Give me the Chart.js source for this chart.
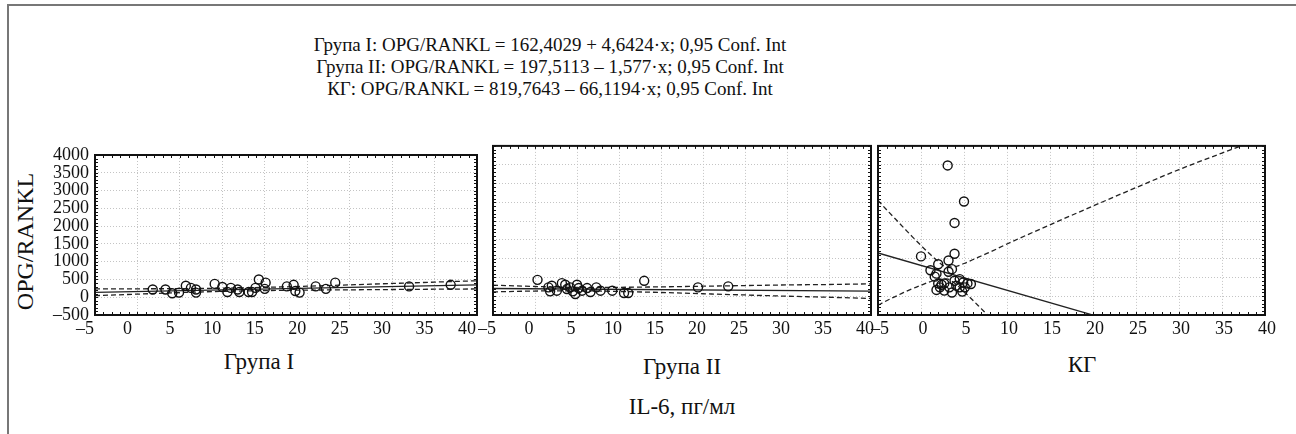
<!DOCTYPE html>
<html>
<head>
<meta charset="utf-8">
<script src="https://cdn.jsdelivr.net/npm/chart.js@4.4.1/dist/chart.umd.min.js"></script>
<style>
  body { margin: 0; width: 1296px; height: 434px; background: #fff; overflow: hidden; position: relative;
         font-family: "Liberation Serif", "Times New Roman", serif; color: #111; }
  .frame { position: absolute; left: 7px; top: 4px; width: 1300px; height: 440px;
           border-top: 2px solid #777; border-left: 2px solid #777; }
  .t { position: absolute; white-space: nowrap; transform: translateX(-50%); text-align: center; }
  .box { position: absolute; }
</style>
</head>
<body>
<div class="frame"></div>
<div class="t" style="left:550px; top:34px; font-size:19px; line-height:22px;">
  Група I: OPG/RANKL = 162,4029 + 4,6424·x; 0,95 Conf. Int<br>
  Група II: OPG/RANKL = 197,5113 – 1,577·x; 0,95 Conf. Int<br>
  КГ: OPG/RANKL = 819,7643 – 66,1194·x; 0,95 Conf. Int
</div>
<div class="t" style="left:25px; top:228px; font-size:24px; transform:translate(-50%,0) rotate(-90deg);">OPG/RANKL</div>
<div class="t" style="left:259px; top:349px; font-size:23px;">Група I</div>
<div class="t" style="left:682px; top:354px; font-size:23px;">Група II</div>
<div class="t" style="left:1082px; top:352px; font-size:23px;">КГ</div>
<div class="t" style="left:682px; top:394px; font-size:23px;">IL-6, пг/мл</div>

<div class="box" style="left:0px; top:140px; width:489px; height:210px;"><canvas id="c1"></canvas></div>
<div class="box" style="left:478px; top:140px; width:405px; height:210px;"><canvas id="c2"></canvas></div>
<div class="box" style="left:863px; top:140px; width:414px; height:210px;"><canvas id="c3"></canvas></div>

<script>
// Група I — IL-6 vs OPG/RANKL
const g1X = [1.8, 3.3, 4.1, 4.9, 5.7, 6.3, 6.9, 6.9, 9.1, 10.0, 10.6, 11.0, 11.8, 12.0, 13.1,
             13.5, 13.9, 14.3, 15.1, 15.0, 17.6, 18.4, 18.6, 19.1, 21.0, 22.2, 23.3, 32.0, 36.9];
const g1Y = [217, 217, 112, 130, 322, 262, 217, 130, 374, 288, 147, 262, 217, 147, 147,
             147, 262, 497, 410, 235, 305, 349, 175, 130, 305, 235, 410, 305, 349];
const g1LineX = [-5, 40];
const g1LineY = [139, 348];
const bandX = [-5, 0, 5, 10, 15, 20, 25, 30, 35, 40];
const g1Upper = [234, 237, 241, 254, 277, 310, 348, 387, 425, 463];
const g1Lower = [44, 87, 131, 164, 187, 200, 208, 217, 225, 233];

// Група II
const g2X = [0.3, 1.6, 1.8, 2.0, 2.6, 3.2, 3.6, 3.8, 4.2, 4.5, 4.8, 5.0, 5.2, 5.6, 6.2, 6.6,
             7.3, 7.8, 9.2, 10.6, 11.1, 13.0, 19.4, 23.0];
const g2Y = [435, 235, 130, 278, 147, 348, 305, 190, 235, 130, 60, 305, 217, 147, 217, 112,
             235, 147, 147, 86, 86, 410, 235, 262];
const g2LineX = [-5, 40];
const g2LineY = [205, 134];
const g2Upper = [295, 258, 235, 237, 249, 266, 283, 300, 312, 329];
const g2Lower = [115, 138, 145, 127, 99, 66, 33, 0, -28, -61];

// КГ
const kgX = [3.1, 5.0, 3.9, 3.9, 0.0, 3.2, 2.0, 1.1, 3.6, 3.2, 1.8, 1.6, 2.0, 2.4, 2.7,
             3.9, 4.5, 4.9, 5.4, 5.8, 4.1, 5.1, 3.3, 1.8, 2.7, 3.6, 4.8, 4.5, 2.2];
const kgY = [3480, 2520, 1950, 1130, 1060, 950, 850, 690, 720, 650, 600, 520, 340, 306, 340,
             411, 455, 366, 340, 325, 280, 236, 236, 167, 149, 97, 123, 236, 236];
const kgLineX = [-5, 40];
const kgLineY = [1150, -1825];
const kgUpperX = [-5, -4, -3, -2, -1, 0, 1, 2, 3, 4, 5, 6, 7, 8, 10, 15, 20, 25, 30, 35, 40];
const kgUpper = [2550, 2300, 2060, 1820, 1580, 1350, 1130, 920, 780, 790, 870, 970, 1070, 1170,
                 1390, 1900, 2400, 2890, 3370, 3810, 4240];
const kgLowerX = [-5, -4, -3, -2, -1, 0, 1, 2, 3, 4, 5, 6, 7, 8, 10];
const kgLower = [-240, -120, -10, 100, 200, 290, 380, 450, 460, 330, 120, -100, -330, -560, -1030];

const xMin = -5, xMax = 40, xStep = 5;
const yMin = -500, yMax = 4000, yStep = 500;

const toXY = (xs, ys) => xs.map((x, i) => ({ x: x, y: ys[i] }));
const dash = s => String(s).replace('-', '\u2013');

// thick frame round the plot area with small inner ticks, as in the original
const frame = {
  id: 'frame',
  afterDraw(chart) {
    const { ctx, chartArea: a, scales: { x, y } } = chart;
    ctx.save();
    ctx.strokeStyle = '#111';
    ctx.lineWidth = 1;
    ctx.beginPath();
    for (let v = x.min; v <= x.max; v += 1) {
      const px = Math.round(x.getPixelForValue(v)) + 0.5;
      ctx.moveTo(px, a.top); ctx.lineTo(px, a.top + 3);
      ctx.moveTo(px, a.bottom); ctx.lineTo(px, a.bottom - 3);
    }
    for (let v = y.min; v <= y.max; v += 100) {
      const py = Math.round(y.getPixelForValue(v)) + 0.5;
      ctx.moveTo(a.left, py); ctx.lineTo(a.left + 3, py);
      ctx.moveTo(a.right, py); ctx.lineTo(a.right - 3, py);
    }
    ctx.stroke();
    ctx.lineWidth = 2;
    ctx.strokeRect(a.left, a.top, a.width, a.height);
    ctx.restore();
  }
};

function panel(id, pts, line, upper, lower, withY, labelShift, padLeft) {
  const lineStyle = { type: 'scatter', showLine: true, pointRadius: 0, borderColor: '#222',
                      borderWidth: 1.3, cubicInterpolationMode: 'monotone', clip: 0 };
  new Chart(document.getElementById(id), {
    type: 'scatter',
    data: {
      datasets: [
        { data: pts, pointRadius: 4.5, pointHoverRadius: 4.5, borderWidth: 1.4,
          borderColor: '#111', backgroundColor: 'rgba(255,255,255,0)' },
        Object.assign({ data: line }, lineStyle),
        Object.assign({ data: upper, borderDash: [5, 3] }, lineStyle),
        Object.assign({ data: lower, borderDash: [5, 3] }, lineStyle)
      ]
    },
    options: {
      responsive: true,
      maintainAspectRatio: false,
      animation: false,
      events: [],
      layout: { padding: { left: padLeft, right: 12, top: 5, bottom: 0 } },
      plugins: { legend: { display: false }, tooltip: { enabled: false } },
      scales: {
        x: {
          type: 'linear', min: xMin, max: xMax,
          afterFit: s => { s.height = 35; },
          grid: { color: '#c4c4c4', drawTicks: false },
          border: { display: false, dash: [1, 2] },
          ticks: { stepSize: xStep, autoSkip: false, maxRotation: 0, padding: 3,
                   labelOffset: labelShift, color: '#111', callback: dash,
                   font: { family: 'Liberation Serif', size: 18 } }
        },
        y: {
          type: 'linear', min: yMin, max: yMax,
          afterFit: s => { s.width = withY ? 95 : 0; },
          grid: { color: '#c4c4c4', drawTicks: false },
          border: { display: false, dash: [1, 2] },
          ticks: { display: withY, stepSize: yStep, autoSkip: false, padding: 6, color: '#111',
                   callback: dash, font: { family: 'Liberation Serif', size: 18, lineHeight: 1 } }
        }
      }
    },
    plugins: [frame]
  });
}

panel('c1', toXY(g1X, g1Y), toXY(g1LineX, g1LineY), toXY(bandX, g1Upper), toXY(bandX, g1Lower), true, -10, 0);
panel('c2', toXY(g2X, g2Y), toXY(g2LineX, g2LineY), toXY(bandX, g2Upper), toXY(bandX, g2Lower), false, -6, 15);
panel('c3', toXY(kgX, kgY), toXY(kgLineX, kgLineY), toXY(kgUpperX, kgUpper), toXY(kgLowerX, kgLower), false, 2, 15);
</script>
</body>
</html>
